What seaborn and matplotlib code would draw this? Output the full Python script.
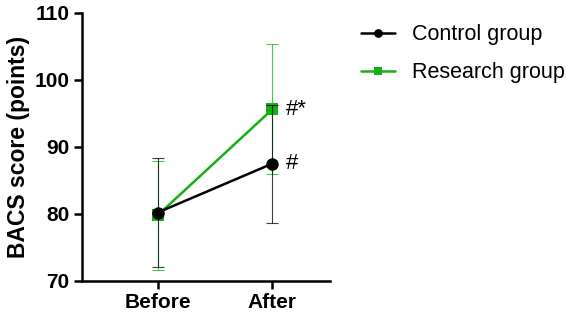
import matplotlib
matplotlib.use("Agg")
import matplotlib.pyplot as plt
import seaborn as sns
import pandas as pd

timepoints = ["Before", "After"]
control_mean = [80.2, 87.5]
control_sd = [8.1, 8.8]
research_mean = [79.8, 95.6]
research_sd = [8.1, 9.7]
marks = ["#", "#*"]

sns.set_theme(style="ticks")
plt.rcParams["font.family"] = ["Liberation Sans", "DejaVu Sans"]
plt.rcParams["text.color"] = "black"
plt.rcParams["xtick.color"] = "black"
plt.rcParams["ytick.color"] = "black"
plt.rcParams["axes.labelcolor"] = "black"

df = pd.DataFrame({
    "time": timepoints * 2,
    "score": control_mean + research_mean,
    "group": ["Control group"] * 2 + ["Research group"] * 2,
})

fig = plt.figure(figsize=(5.67, 3.2), dpi=100)
ax = fig.add_axes([0.144, 0.122, 0.438, 0.838])

colors = {"Control group": "black", "Research group": "#14b014"}
markers = {"Control group": "o", "Research group": "s"}
sizes = {"Control group": 9, "Research group": 8}

# research first so control sits on top
for grp, mean, sd in [("Research group", research_mean, research_sd),
                      ("Control group", control_mean, control_sd)]:
    sub = df[df["group"] == grp]
    x = [timepoints.index(t) for t in sub["time"]]
    ax.errorbar(x, mean, yerr=sd, fmt="none", ecolor=colors[grp],
                elinewidth=0.8, capsize=4.5, capthick=0.8, alpha=0.75)
    sns.lineplot(x=x, y=sub["score"].values, ax=ax, color=colors[grp],
                 marker=markers[grp], markersize=sizes[grp], linewidth=1.8,
                 markeredgewidth=0, label=grp)

for m, v in zip(marks, [control_mean[1], research_mean[1]]):
    ax.text(1 + 0.12, v, m, fontsize=16, va="center", ha="left")

ax.set_xlim(-0.663, 1.503)
ax.set_ylim(70, 110)
ax.set_yticks([70, 80, 90, 100, 110])
ax.set_xticks([0, 1])
ax.set_xticklabels(timepoints)
ax.set_ylabel("BACS score (points)", fontsize=16.5, fontweight="bold", labelpad=3)
ax.set_xlabel("")
for lab in ax.get_xticklabels() + ax.get_yticklabels():
    lab.set_fontweight("bold")
    lab.set_fontsize(15)
ax.tick_params(width=1.8, length=6, color="black", pad=3)
for s in ["left", "bottom"]:
    ax.spines[s].set_linewidth(1.8)
    ax.spines[s].set_color("black")
sns.despine(ax=ax)

handles, labels = ax.get_legend_handles_labels()
order = [labels.index("Control group"), labels.index("Research group")]
ax.legend([handles[i] for i in order], [labels[i] for i in order],
          loc="upper left", bbox_to_anchor=(1.045, 1.03), frameon=False,
          fontsize=15.5, handlelength=1.6, labelspacing=0.8, markerscale=0.7)

fig.savefig("out.png", dpi=100)
